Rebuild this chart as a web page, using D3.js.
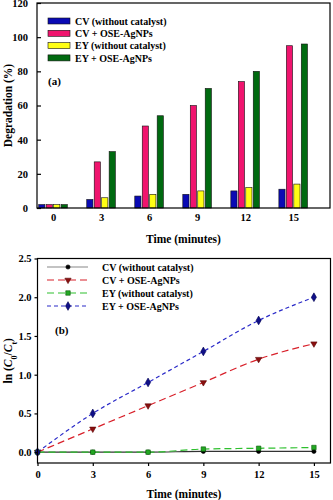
<!DOCTYPE html>
<html><head><meta charset="utf-8">
<script src="https://cdn.jsdelivr.net/npm/d3@7/dist/d3.min.js"></script>
<style>body{margin:0;background:#fff}svg{display:block}text{font-family:"Liberation Serif","Times New Roman",serif;font-weight:bold;fill:#000}</style>
</head><body>
<svg id="c" width="333" height="500"></svg>
<script>
// ---------- data ----------
const times = [0, 3, 6, 9, 12, 15];
const seriesNames = ["CV (without catalyst)", "CV + OSE-AgNPs", "EY (without catalyst)", "EY + OSE-AgNPs"];
// (a) degradation %
const degCV = [2, 5, 7, 8, 10, 11];
const degCVAg = [2, 27, 48, 60, 74, 95];
const degEY = [2, 6, 8, 10, 12, 14];
const degEYAg = [2, 33, 54, 70, 80, 96];
const yTicksA = [0, 20, 40, 60, 80, 100, 120];
// (b) ln(C0/Ct)
const lnCV = [0, 0, 0, 0.01, 0.01, 0.01];
const lnCVAg = [0, 0.3, 0.6, 0.9, 1.2, 1.4];
const lnEY = [0, 0, 0, 0.04, 0.05, 0.06];
const lnEYAg = [0, 0.5, 0.9, 1.3, 1.7, 2.0];
const yTicksB = [0.0, 0.5, 1.0, 1.5, 2.0, 2.5];

const svg = d3.select("#c");

// ================= chart (a) =================
const A = {l: 37, r: 330, t: 3, b: 208};
const xa = d3.scaleLinear().domain([-1, 17.3]).range([A.l, A.r]);
const ya = d3.scaleLinear().domain([0, 120]).range([A.b, A.t]);
const inner = d3.scaleBand().domain(seriesNames).range([-14.3, 14.3]).paddingInner(0.17);
const barColors = ["#0a0ab4", "#f0146e", "#ffff14", "#006a10"];
const barData = [degCV, degCVAg, degEY, degEYAg];

const ga = svg.append("g");
barData.forEach((vals, si) => {
  ga.selectAll(null).data(times).enter().append("rect")
    .attr("x", (t) => xa(t) + inner(seriesNames[si]))
    .attr("width", inner.bandwidth())
    .attr("y", (t, i) => ya(vals[i]))
    .attr("height", (t, i) => ya(0) - ya(vals[i]))
    .attr("fill", barColors[si])
    .attr("stroke", "#111").attr("stroke-width", 0.6);
});
// frame
ga.append("rect").attr("x", A.l).attr("y", A.t).attr("width", A.r - A.l).attr("height", A.b - A.t)
  .attr("fill", "none").attr("stroke", "#000").attr("stroke-width", 1.2);
// y axis
const yAxA = ga.append("g").attr("transform", `translate(${A.l},0)`)
  .call(d3.axisLeft(ya).tickValues(yTicksA).tickSize(-4).tickPadding(9).tickFormat(d3.format("d")));
yAxA.select(".domain").remove();
// x axis labels
const xAxA = ga.append("g").attr("transform", `translate(0,${A.b})`)
  .call(d3.axisBottom(xa).tickValues(times).tickSize(0).tickPadding(6).tickFormat(d3.format("d")));
xAxA.select(".domain").remove();
[yAxA, xAxA].forEach(g => g.selectAll("text").style("font-size", "10.5px").style("font-family", "Liberation Serif, serif").style("font-weight", "bold"));
yAxA.selectAll("line").attr("stroke", "#000").attr("stroke-width", 1.2);

ga.append("text").attr("x", (A.l + A.r) / 2).attr("y", 243).attr("text-anchor", "middle").style("font-size", "11.5px").text("Time (minutes)");
ga.append("text").attr("transform", `translate(12,${(A.t + A.b) / 2}) rotate(-90)`).attr("text-anchor", "middle").style("font-size", "11.5px").text("Degradation (%)");
ga.append("text").attr("x", 48).attr("y", 85).style("font-size", "11px").text("(a)");

// legend (a)
seriesNames.forEach((n, i) => {
  const y = 21 + i * 12.3;
  ga.append("rect").attr("x", 48).attr("y", y - 3).attr("width", 22).attr("height", 6)
    .attr("fill", barColors[i]).attr("stroke", "#111").attr("stroke-width", 0.6);
  ga.append("text").attr("x", 75).attr("y", y + 3.6).style("font-size", "10px").text(n);
});

// ================= chart (b) =================
const B = {l: 37.5, r: 330.5, t: 258.5, b: 463};
const xb = d3.scaleLinear().domain([0, 15.9]).range([B.l, B.r]);
const yb = d3.scaleLinear().domain([-0.14, 2.5]).range([B.b, B.t]);
const gb = svg.append("g");

const lineStyles = [
  {stroke: "#333", dash: null, marker: d3.symbolCircle, mfill: "#000", mstroke: "#000", size: 14, lstroke: "#888"},
  {stroke: "#d8202a", dash: "7,4", marker: d3.symbolTriangle, mfill: "#8a1010", mstroke: "#5a0000", size: 17, rot: 180},
  {stroke: "#2ec02e", dash: "7,4", marker: d3.symbolSquare, mfill: "#22a822", mstroke: "#0a5a0a", size: 20},
  {stroke: "#2a2ac8", dash: "4,3", marker: d3.symbolDiamond, mfill: "#101088", mstroke: "#000050", size: 22}
];
const lineData = [lnCV, lnCVAg, lnEY, lnEYAg];
const line = d3.line().x((d, i) => xb(times[i])).y((d) => yb(d)).curve(d3.curveMonotoneX);

lineData.forEach((vals, si) => {
  const st = lineStyles[si];
  gb.append("path").datum(vals).attr("d", line).attr("fill", "none")
    .attr("stroke", st.stroke).attr("stroke-width", 1.2)
    .attr("stroke-dasharray", st.dash);
});
lineData.forEach((vals, si) => {
  const st = lineStyles[si];
  gb.selectAll(null).data(vals).enter().append("path")
    .attr("d", d3.symbol().type(st.marker).size(st.size))
    .attr("transform", (d, i) => `translate(${xb(times[i])},${yb(d)})` + (st.rot ? ` rotate(${st.rot})` : ""))
    .attr("fill", st.mfill).attr("stroke", st.mstroke).attr("stroke-width", 0.6);
});

gb.append("rect").attr("x", B.l).attr("y", B.t).attr("width", B.r - B.l).attr("height", B.b - B.t)
  .attr("fill", "none").attr("stroke", "#000").attr("stroke-width", 1.2);
const yAxB = gb.append("g").attr("transform", `translate(${B.l},0)`)
  .call(d3.axisLeft(yb).tickValues(yTicksB).tickSize(3).tickPadding(3).tickFormat(d3.format(".1f")));
yAxB.select(".domain").remove();
const xAxB = gb.append("g").attr("transform", `translate(0,${B.b})`)
  .call(d3.axisBottom(xb).tickValues(times).tickSize(3).tickPadding(5).tickFormat(d3.format("d")));
xAxB.select(".domain").remove();
[yAxB, xAxB].forEach(g => {
  g.selectAll("text").style("font-size", "10.5px").style("font-family", "Liberation Serif, serif").style("font-weight", "bold");
  g.selectAll("line").attr("stroke", "#000").attr("stroke-width", 1.2);
});

gb.append("text").attr("x", (B.l + B.r) / 2).attr("y", 497.5).attr("text-anchor", "middle").style("font-size", "11.5px").text("Time (minutes)");
const yt = gb.append("text").attr("transform", `translate(12,${(B.t + B.b) / 2}) rotate(-90)`).attr("text-anchor", "middle").style("font-size", "11.5px");
yt.append("tspan").text("ln (");
yt.append("tspan").style("font-style", "italic").text("C");
yt.append("tspan").attr("baseline-shift", "sub").style("font-size", "8px").text("0");
yt.append("tspan").text("/");
yt.append("tspan").style("font-style", "italic").text("C");
yt.append("tspan").attr("baseline-shift", "sub").style("font-size", "8px").text("t");
yt.append("tspan").text(")");
gb.append("text").attr("x", 55).attr("y", 334).style("font-size", "11px").text("(b)");

// legend (b)
seriesNames.forEach((n, i) => {
  const st = lineStyles[i];
  const y = 267 + i * 13;
  gb.append("line").attr("x1", 47).attr("x2", 88).attr("y1", y).attr("y2", y)
    .attr("stroke", st.lstroke || st.stroke).attr("stroke-width", 1.2).attr("stroke-dasharray", st.dash);
  gb.append("path").attr("d", d3.symbol().type(st.marker).size(st.size))
    .attr("transform", `translate(68,${y})` + (st.rot ? ` rotate(${st.rot})` : ""))
    .attr("fill", st.mfill).attr("stroke", st.mstroke).attr("stroke-width", 0.6);
  gb.append("text").attr("x", 102).attr("y", y + 3.6).style("font-size", "10px").text(n);
});
</script>
</body></html>
